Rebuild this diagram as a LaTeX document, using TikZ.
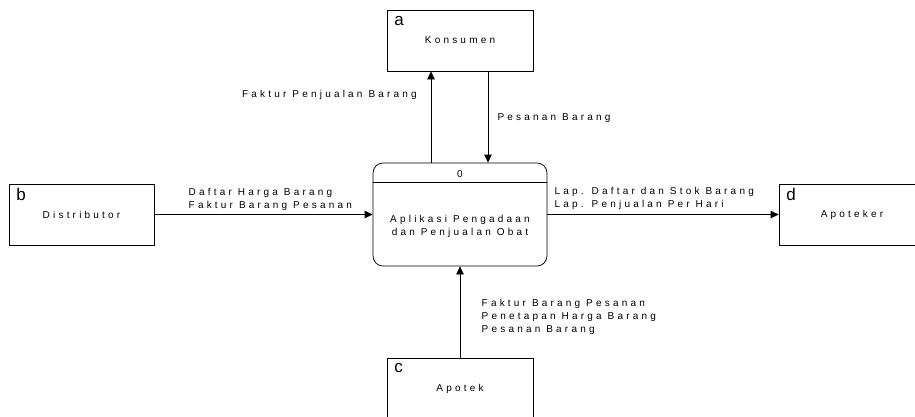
\documentclass[tikz,border=0pt]{standalone}
\usepackage{fontspec}
\setmainfont{Liberation Sans}
\newfontfamily\trk{Liberation Sans}[LetterSpace=32]
\usetikzlibrary{arrows.meta}
\tikzset{
  ent/.style={draw, line width=0.75pt, minimum width=146pt, minimum height=61pt, inner sep=0pt,
    font=\trk\fontsize{10}{13}\selectfont},
  proc/.style={draw, line width=0.75pt, rounded corners=10pt, minimum width=174pt, minimum height=103pt, inner sep=0pt},
  lbl/.style={inner sep=0pt, align=left, font=\trk\fontsize{10}{13}\selectfont},
  ptxt/.style={inner sep=0pt, align=center, font=\trk\fontsize{10}{12.5}\selectfont},
  idl/.style={inner sep=0pt, anchor=base west, font=\fontsize{17}{19}\selectfont},
  flow/.style={line width=0.75pt, -{Triangle[length=8pt,width=7.5pt]}}
}
\begin{document}
\begin{tikzpicture}[x=1pt,y=-1pt]
\useasboundingbox (0,0) rectangle (915,416);
% entities
\node[ent] (a) at (460,40.5) {Konsumen};
\node[ent, minimum width=145pt] (b) at (81.5,214.5) {Distributor};
\node[ent] (d) at (852,214.5) {Apoteker};
\node[ent] (c) at (460,388.5) {Apotek};
\node[idl] (la) at ([xshift=7.5pt,yshift=-15.7pt]a.north west) {a};
\node[idl] (lb) at ([xshift=7.5pt,yshift=-16.7pt]b.north west) {b};
\node[idl] (ld) at ([xshift=7.5pt,yshift=-16.7pt]d.north west) {d};
\node[idl] (lc) at ([xshift=7.5pt,yshift=-15.3pt]c.north west) {c};
% process
\node[proc] (p) at (460,214.5) {};
\draw[line width=0.75pt] ([yshift=-20pt]p.north west) -- ([yshift=-20pt]p.north east);
\node[ptxt, anchor=base] (pn) at (460,177) {0};
\node[ptxt, anchor=north] (pt) at (460,215.2) {Aplikasi Pengadaan\\dan Penjualan Obat};
% flows
\coordinate (x1) at (431,0);
\coordinate (x2) at (488,0);
\draw[flow] (x1 |- p.north) -- (x1 |- a.south);
\draw[flow] (x2 |- a.south) -- (x2 |- p.north);
\draw[flow] (b.east) -- (b.east -| p.west);
\draw[flow] (d.west -| p.east) -- (d.west);
\draw[flow] (c.north) -- (p.south);
% labels
\node[lbl, anchor=base east] (f1) at (417,97.5) {Faktur Penjualan Barang};
\node[lbl, anchor=base west] (f2) at (497.3,120) {Pesanan Barang};
\node[lbl, anchor=north west] (f3) at (188.5,187.7) {Daftar Harga Barang\\Faktur Barang Pesanan};
\node[lbl, anchor=north west] (f4) at (554.5,186.9) {Lap. Daftar dan Stok Barang\\Lap. Penjualan Per Hari};
\node[lbl, anchor=north west] (f5) at (481.5,298.7) {Faktur Barang Pesanan\\Penetapan Harga Barang\\Pesanan Barang};
\end{tikzpicture}
\end{document}
